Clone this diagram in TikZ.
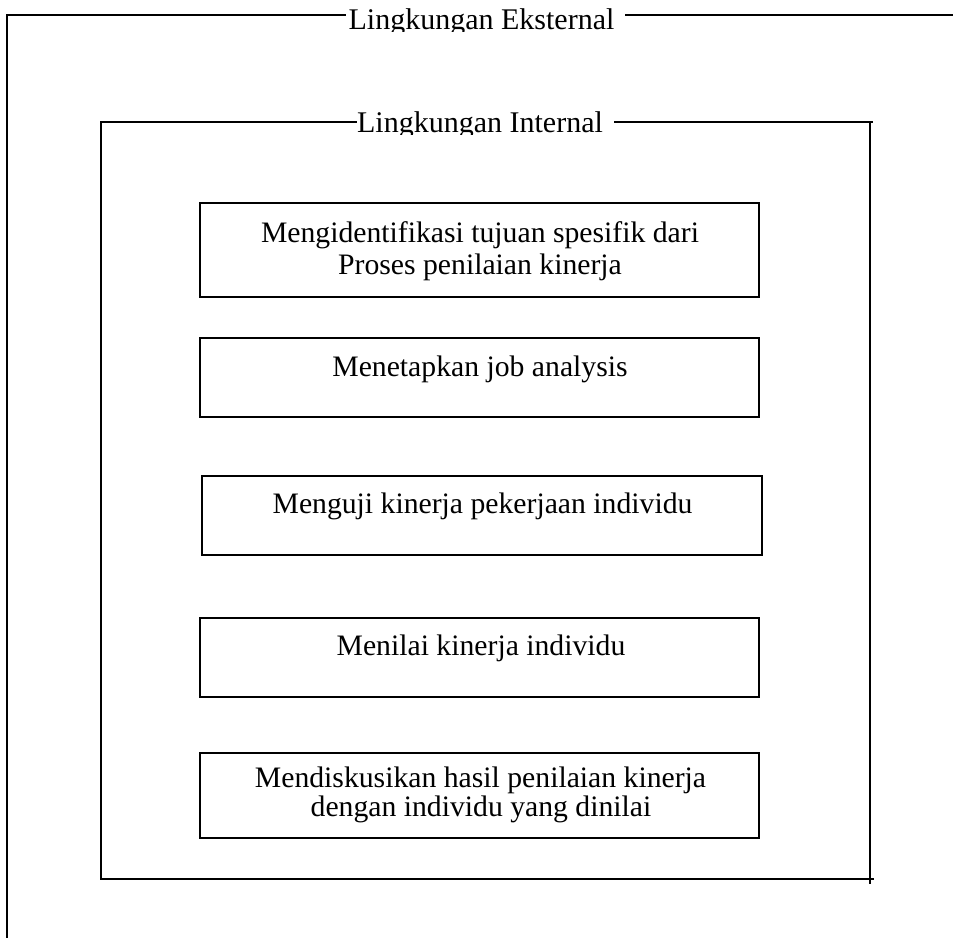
\documentclass[tikz,border=0pt]{standalone}
\usepackage{fontspec}
\setmainfont{Liberation Serif}
\begin{document}
\begin{tikzpicture}[x=1pt,y=-1pt,
  frame/.style={line width=1.9pt, line cap=rect},
  stepbox/.style={draw, line width=1.9pt, inner sep=0pt},
  txt/.style={anchor=base, inner sep=0pt, font=\fontsize{29.7}{32}\selectfont},
  lbl/.style={anchor=base, inner sep=0pt, font=\fontsize{30}{32}\selectfont}]
\useasboundingbox (0,0) rectangle (953,937);
% outer frame (Lingkungan Eksternal)
\coordinate (oTL) at (7,15);
\coordinate (oBL) at (7,937);
\coordinate (oG1) at (345,15);
\coordinate (oG2) at (626,15);
\coordinate (oTR) at (953,15);
\draw[frame] (oBL) -- (oTL) -- (oG1);
\draw[frame] (oG2) -- (oTR);
\begin{scope}
\clip (300,0) rectangle (700,31);
\node[lbl] (ext) at (481.5,29) {Lingkungan Eksternal};
\end{scope}
% inner frame (Lingkungan Internal)
\coordinate (iTL) at (101,122);
\coordinate (iBL) at (101,879);
\coordinate (iBR) at (873,879);
\coordinate (iG1) at (356,122);
\coordinate (iG2) at (615,122);
\coordinate (iTR) at (872,122);
\coordinate (iRt) at (870,122);
\coordinate (iRb) at (870,883);
\draw[frame] (iG1) -- (iTL) -- (iBL) -- (iBR);
\draw[frame] (iG2) -- (iTR);
\draw[frame] (iRt) -- (iRb);
\begin{scope}
\clip (300,100) rectangle (700,134);
\node[lbl] (int) at (480,132) {Lingkungan Internal};
\end{scope}
% boxes
\node[stepbox, minimum width=559pt, minimum height=94pt] (b1) at (479.5,250) {};
\node[stepbox, minimum width=559pt, minimum height=79pt] (b2) at (479.5,377.5) {};
\node[stepbox, minimum width=560pt, minimum height=79pt] (b3) at (482,515.5) {};
\node[stepbox, minimum width=559pt, minimum height=79pt] (b4) at (479.5,657.5) {};
\node[stepbox, minimum width=559pt, minimum height=85pt] (b5) at (479.5,795.5) {};
% texts
\node[txt] (t1a) at (480,242) {Mengidentifikasi tujuan spesifik dari};
\node[txt] (t1b) at (480,274) {Proses penilaian kinerja};
\node[txt] (t2) at (480,376) {Menetapkan job analysis};
\node[txt] (t3) at (482.5,513) {Menguji kinerja pekerjaan individu};
\node[txt] (t4) at (481,655) {Menilai kinerja individu};
\node[txt] (t5a) at (480.5,787) {Mendiskusikan hasil penilaian kinerja};
\node[txt] (t5b) at (481,816) {dengan individu yang dinilai};
\end{tikzpicture}
\end{document}
